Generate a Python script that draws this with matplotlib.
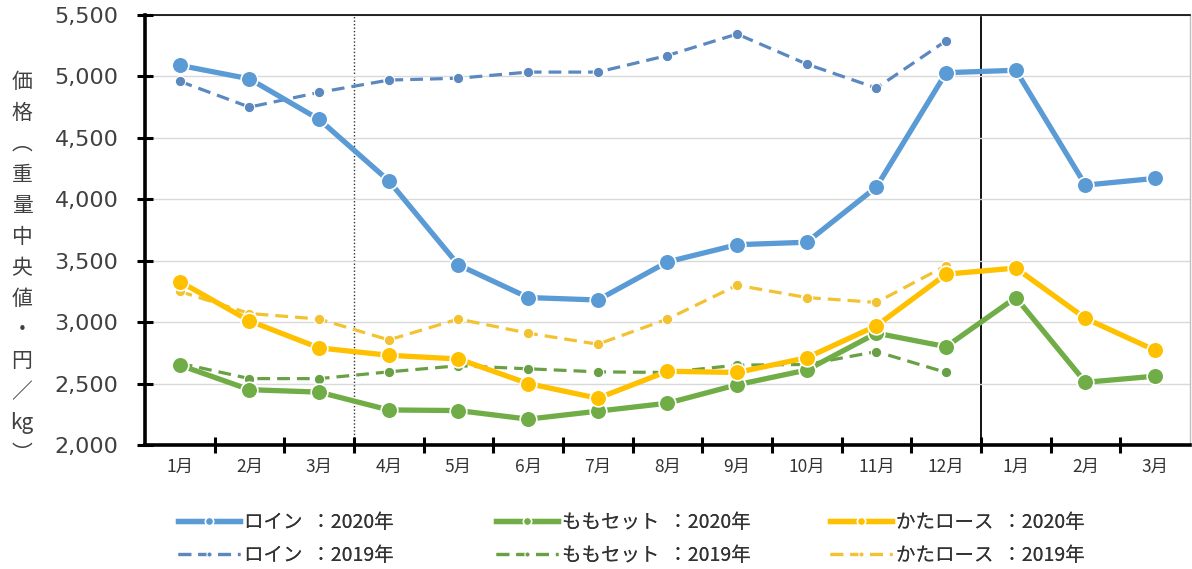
import matplotlib
matplotlib.use("Agg")
import matplotlib.pyplot as plt
from matplotlib.ticker import FuncFormatter, FixedLocator

plt.rcParams["font.family"] = ["Noto Sans CJK JP", "DejaVu Sans"]

months = ["1月", "2月", "3月", "4月", "5月", "6月", "7月", "8月", "9月",
          "10月", "11月", "12月", "1月", "2月", "3月"]

loin_2020 = [5090, 4980, 4650, 4150, 3465, 3200, 3180, 3490, 3630, 3650,
             4100, 5030, 5050, 4115, 4170]
loin_2019 = [4960, 4750, 4870, 4970, 4985, 5035, 5035, 5170, 5345, 5100,
             4905, 5290]
momo_2020 = [2650, 2450, 2430, 2285, 2280, 2210, 2275, 2340, 2490, 2610,
             2910, 2800, 3200, 2510, 2560]
momo_2019 = [2665, 2540, 2540, 2595, 2645, 2620, 2595, 2590, 2650, 2655,
             2760, 2590]
kata_2020 = [3330, 3010, 2790, 2730, 2700, 2500, 2380, 2600, 2590, 2710,
             2970, 3390, 3440, 3030, 2770]
kata_2019 = [3250, 3070, 3025, 2855, 3025, 2910, 2820, 3025, 3300, 3200,
             3160, 3460]

series = [
    ("ロイン  ：2020年", loin_2020, "#5b9bd5", "-"),
    ("ロイン  ：2019年", loin_2019, "#5a88bf", "--"),
    ("ももセット  ：2020年", momo_2020, "#70ad47", "-"),
    ("ももセット  ：2019年", momo_2019, "#69a046", "--"),
    ("かたロース  ：2020年", kata_2020, "#ffc000", "-"),
    ("かたロース  ：2019年", kata_2019, "#f2c230", "--"),
]

fig = plt.figure(figsize=(11.92, 5.69), dpi=100)
ax = fig.add_axes([0.1216, 0.218, 0.8767, 0.7557])

handles = []
for label, vals, color, ls in series:
    x = list(range(len(vals)))
    if ls == "-":
        h, = ax.plot(x, vals, color=color, lw=3.8, marker="o", ms=12,
                     mec="white", mew=1.2, label=label, zorder=3)
    else:
        h, = ax.plot(x, vals, color=color, lw=2.3, dashes=(4, 2.2), marker="o",
                     ms=7.5, mec="white", mew=0.8, label=label, zorder=2)
    handles.append(h)

ax.set_xlim(-0.5, len(months) - 0.5)
ax.set_ylim(2000, 5500)
ax.set_yticks(range(2000, 5501, 500))
ax.yaxis.set_major_formatter(FuncFormatter(lambda v, p: f"{int(v):,}"))
ax.grid(axis="y", color="#d9d9d9", lw=1.0, zorder=0)
for t in ax.get_yticklabels():
    t.set_fontfamily("DejaVu Sans")

# month labels centred on the points, tick marks between categories
ax.set_xticks(range(len(months)))
ax.set_xticklabels(months, fontsize=12.5, color="#333333")
ax.xaxis.set_minor_locator(FixedLocator([i + 0.5 for i in range(len(months) - 1)]))
ax.tick_params(axis="x", which="major", length=0, pad=9)
ax.tick_params(axis="x", which="minor", length=12, width=2.2, direction="inout",
               color="black")
ax.tick_params(axis="y", length=12, width=2.2, direction="inout",
               labelsize=16, colors="black", labelcolor="#404040", pad=13)

ax.spines["left"].set_linewidth(2.6)
ax.spines["bottom"].set_linewidth(2.6)
ax.spines["top"].set_linewidth(1.2)
ax.spines["right"].set_linewidth(1.0)
ax.spines["right"].set_color("#bfbfbf")

# fiscal year dividers
ax.axvline(2.5, color="#333333", lw=1.0, ls=(0, (1, 1.5)), zorder=1)
ax.axvline(11.5, color="black", lw=1.3, zorder=1)

# vertical y-axis caption
caption = ["価", "格", "︵", "重", "量", "中", "央", "値", "・", "円", "／", "kg", "︶"]
top_px, step_px = 82, 31.0
for i, ch in enumerate(caption):
    y_px = top_px + i * step_px
    fig.text(22 / 1192, 1 - y_px / 569, ch, ha="center", va="center",
             fontsize=15, color="#404040")

# one two-row legend block per cut of pork
for k, x_px in enumerate([168, 486, 820]):
    pair = handles[2 * k:2 * k + 2]
    leg = fig.legend(pair, [h.get_label() for h in pair], loc="center left",
                     bbox_to_anchor=(x_px / 1192, 1 - 539 / 569),
                     frameon=False, fontsize=14, handlelength=3.2,
                     handletextpad=0.2, labelspacing=0.6, markerscale=0.5,
                     borderpad=0, labelcolor="#333333")
    fig.add_artist(leg)

fig.savefig("out.png", dpi=100, facecolor="white")
